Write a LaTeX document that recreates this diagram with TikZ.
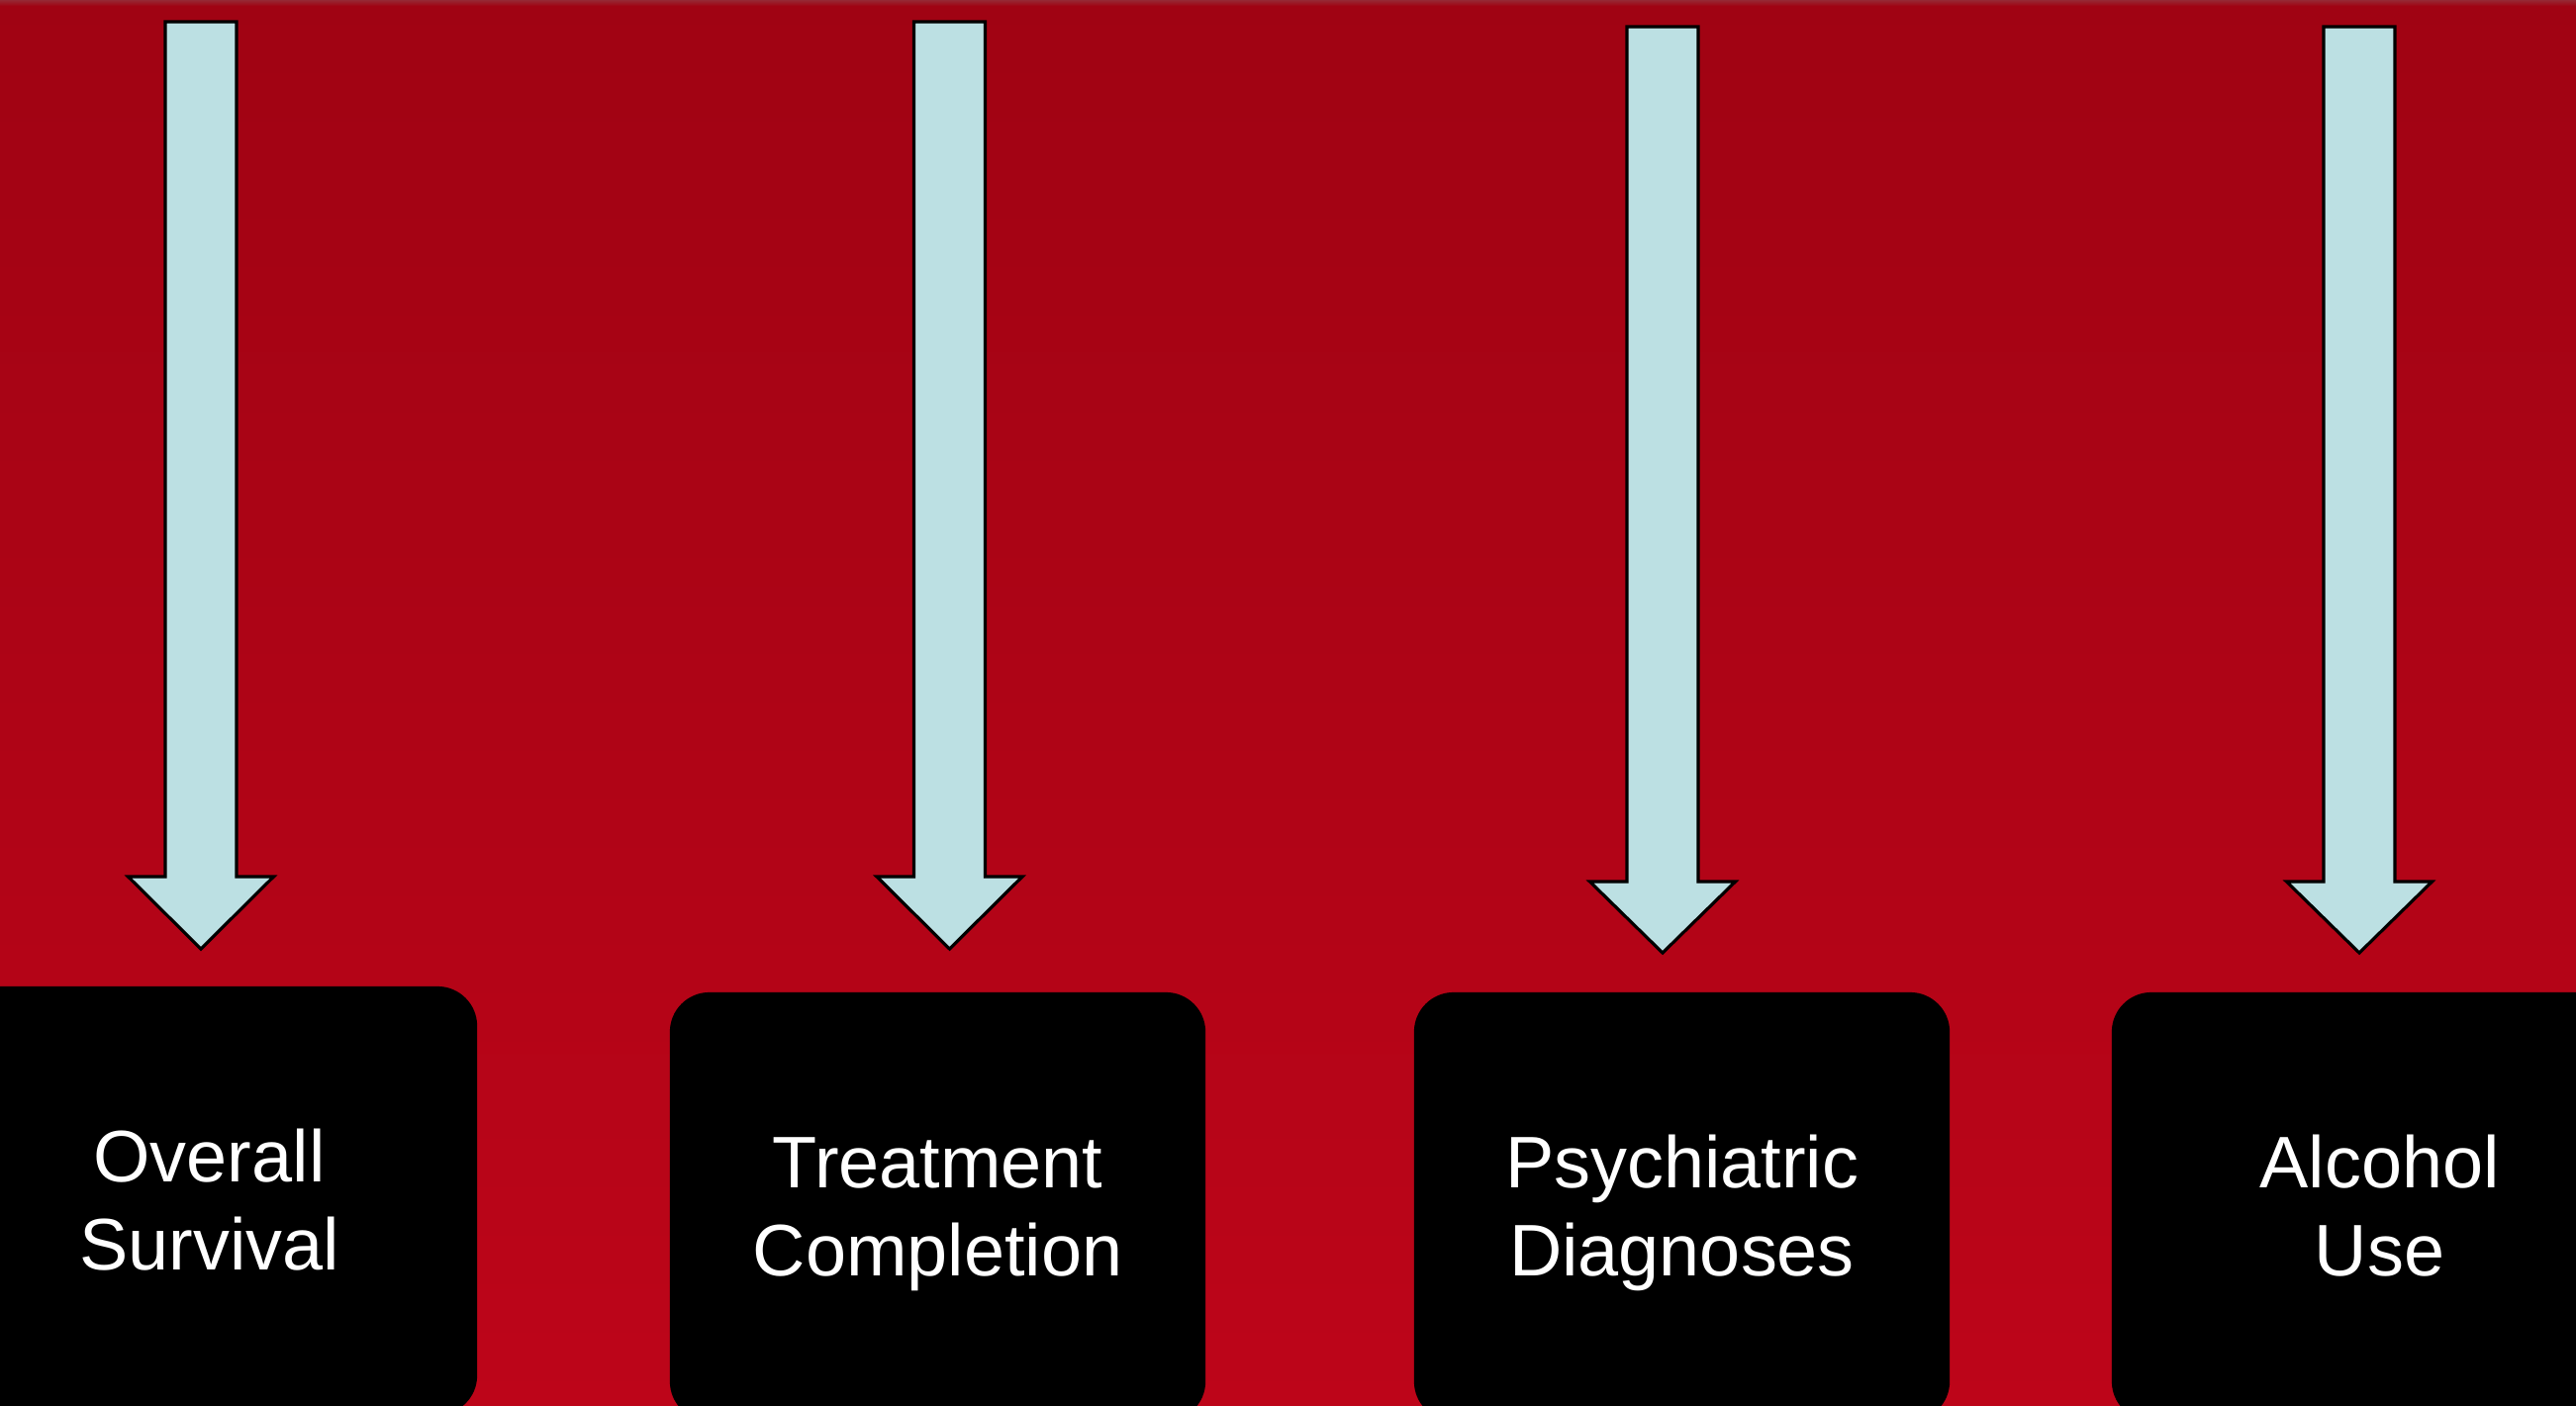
\documentclass[tikz,border=0pt]{standalone}
\usepackage{fontspec}
\setmainfont{Liberation Sans}
\definecolor{bgtop}{HTML}{A00313}
\definecolor{bgbot}{HTML}{BD0519}
\definecolor{arrowfill}{HTML}{BCE0E3}
\tikzset{
  blockarrow/.style={fill=arrowfill, draw=black, line width=0.9pt, line join=miter},
  outbox/.style={fill=black, draw=none, rounded corners=0.4cm, minimum width=5.41cm,
    minimum height=4.33cm, inner sep=0pt},
  outlabel/.style={text=white, align=center, inner sep=0pt, yshift=-0.075cm,
    font=\fontsize{21}{25.5}\selectfont}
}
\newcommand\blockarr[4]{% centre x, top y, shoulder y, tip y
  \draw[blockarrow] (#1-36,#2) -- (#1+36,#2) -- (#1+36,#3) -- (#1+73.5,#3)
    -- (#1,#4) -- (#1-73.5,#3) -- (#1-36,#3) -- cycle;}
\begin{document}
\begin{tikzpicture}[x=0.01cm, y=-0.01cm]
\useasboundingbox (0,0) rectangle (2603,1420);
\clip (0,0) rectangle (2603,1420);
\shade[top color=bgtop, bottom color=bgbot] (0,0) rectangle (2603,1420);
\shade[top color=bgtop!70!gray, bottom color=bgtop] (0,0) rectangle (2603,6);
% arrows
\blockarr{203}{22}{886}{959}
\blockarr{959.5}{22}{886}{959}
\blockarr{1680}{27}{891}{963}
\blockarr{2384}{27}{891}{963}
% outcome boxes
\node[outbox] (b1) at (211.5,1213.5) {};
\node[outbox] (b2) at (947.5,1219.5) {};
\node[outbox] (b3) at (1699.5,1219.5) {};
\node[outbox] (b4) at (2404.5,1219.5) {};
\node[outlabel] (t1) at (b1.center) {\strut Overall\\\strut Survival};
\node[outlabel] (t2) at (b2.center) {\strut Treatment\\\strut Completion};
\node[outlabel] (t3) at (b3.center) {\strut Psychiatric\\\strut Diagnoses};
\node[outlabel] (t4) at (b4.center) {\strut Alcohol\\\strut Use};
\end{tikzpicture}
\end{document}
